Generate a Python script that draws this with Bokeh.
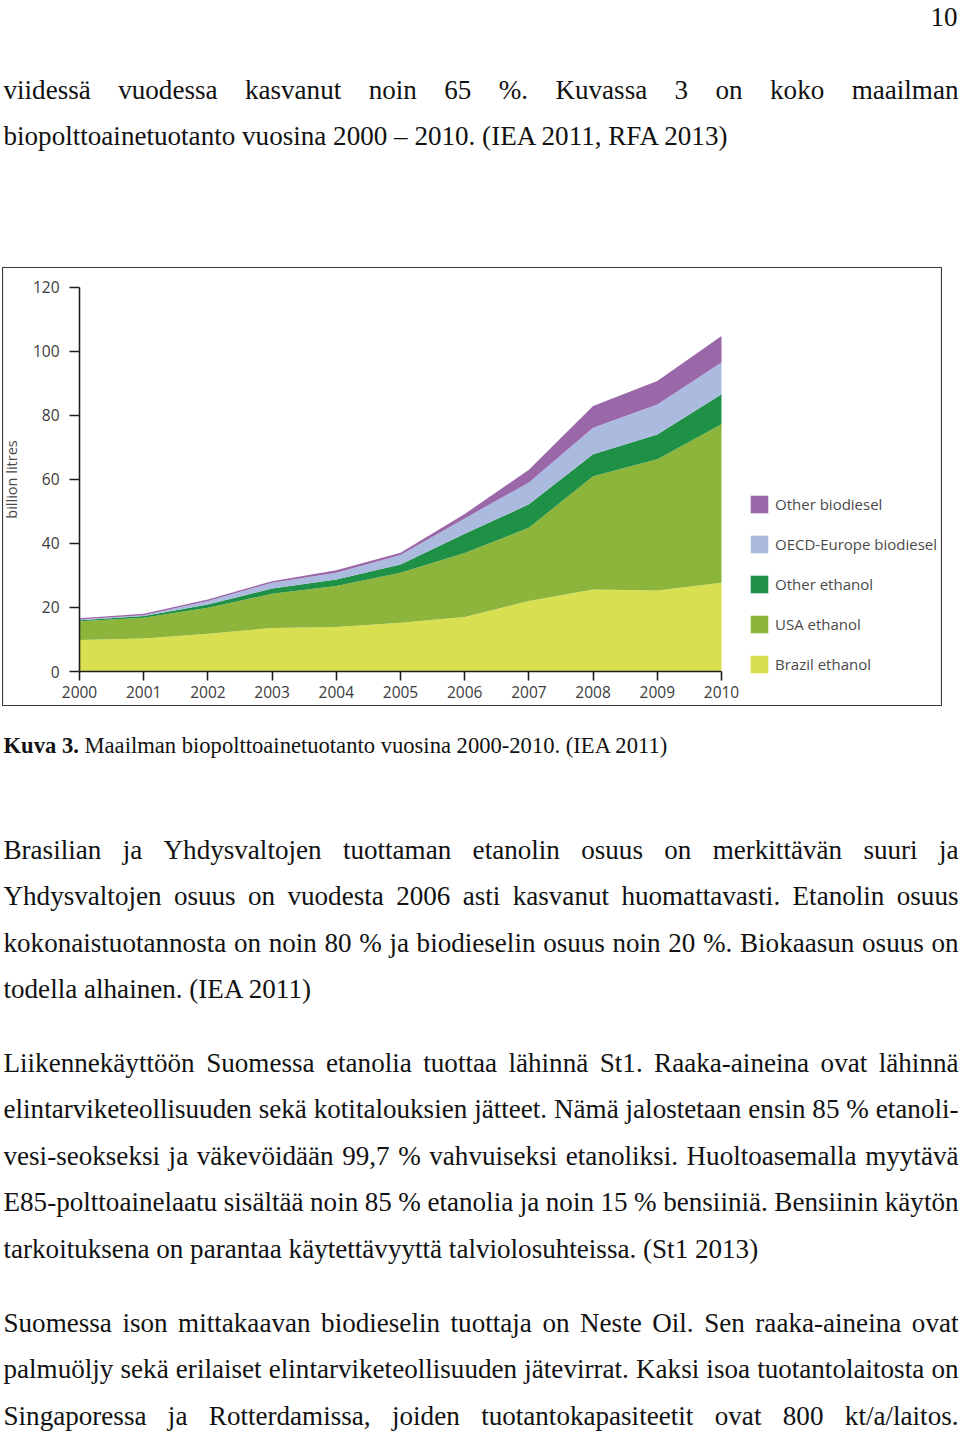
from bokeh.plotting import figure
from bokeh.models import Range1d, LinearAxis, FixedTicker, Legend, LegendItem, ColumnDataSource, Spacer
from bokeh.layouts import column, row
from bokeh.core.properties import value
from bokeh.embed import file_html
from bokeh.resources import INLINE

# ---------------- data ----------------
years = [2000, 2001, 2002, 2003, 2004, 2005, 2006, 2007, 2008, 2009, 2010]
brazil_ethanol = [9.8, 10.3, 11.8, 13.6, 13.9, 15.2, 17.0, 22.0, 25.6, 25.3, 27.7]
usa_ethanol = [5.9, 6.5, 8.1, 10.7, 12.8, 15.6, 20.0, 22.9, 35.4, 41.0, 49.5]
other_ethanol = [0.3, 0.5, 1.0, 1.6, 2.0, 2.6, 6.0, 7.3, 6.8, 7.7, 9.4]
oecd_europe_biodiesel = [0.2, 0.3, 1.1, 1.8, 2.1, 3.0, 4.8, 6.8, 8.3, 9.4, 9.9]
other_biodiesel = [0.4, 0.4, 0.5, 0.5, 0.8, 0.7, 1.4, 4.0, 6.8, 7.3, 8.3]
series_labels = ["Brazil ethanol", "USA ethanol", "Other ethanol",
                 "OECD-Europe biodiesel", "Other biodiesel"]
y_ticks = [0, 20, 40, 60, 80, 100, 120]
y_label = "billion litres"

page_number = "10"
para1 = [("viidessä vuodessa kasvanut noin 65 %. Kuvassa 3 on koko maailman", True),
         ("biopolttoainetuotanto vuosina 2000 – 2010. (IEA 2011, RFA 2013)", False)]
caption_bold = "Kuva 3."
caption_rest = "Maailman biopolttoainetuotanto vuosina 2000-2010. (IEA 2011)"
para2 = [("Brasilian ja Yhdysvaltojen tuottaman etanolin osuus on merkittävän suuri ja", True),
         ("Yhdysvaltojen osuus on vuodesta 2006 asti kasvanut huomattavasti. Etanolin osuus", True),
         ("kokonaistuotannosta on noin 80 % ja biodieselin osuus noin 20 %. Biokaasun osuus on", True),
         ("todella alhainen. (IEA 2011)", False)]
para3 = [("Liikennekäyttöön Suomessa etanolia tuottaa lähinnä St1. Raaka-aineina ovat lähinnä", True),
         ("elintarviketeollisuuden sekä kotitalouksien jätteet. Nämä jalostetaan ensin 85 % etanoli-", True),
         ("vesi-seokseksi ja väkevöidään 99,7 % vahvuiseksi etanoliksi. Huoltoasemalla myytävä", True),
         ("E85-polttoainelaatu sisältää noin 85 % etanolia ja noin 15 % bensiiniä. Bensiinin käytön", True),
         ("tarkoituksena on parantaa käytettävyyttä talviolosuhteissa. (St1 2013)", False)]
para4 = [("Suomessa ison mittakaavan biodieselin tuottaja on Neste Oil. Sen raaka-aineina ovat", True),
         ("palmuöljy sekä erilaiset elintarviketeollisuuden jätevirrat. Kaksi isoa tuotantolaitosta on", True),
         ("Singaporessa ja Rotterdamissa, joiden tuotantokapasiteetit ovat 800 kt/a/laitos.", True)]

# ---------------- layout helpers ----------------
PAGE_W = 960
X_L, X_R = 3, 958
SERIF = value("Liberation Serif")
BODY = 27.1
CAP = 22.6
LINE = 46.5
BASE_FIX = 0.31      # renderer draws alphabetic baseline slightly low; compensate

TIMES = {' ': 250, '%': 833, '(': 333, ')': 333, ',': 250, '-': 333, '.': 250, '/': 278,
         ':': 278, '–': 500,
         'A': 722, 'B': 667, 'C': 667, 'D': 722, 'E': 611, 'F': 556, 'G': 722, 'H': 722,
         'I': 333, 'J': 389, 'K': 722, 'L': 611, 'M': 889, 'N': 722, 'O': 722, 'P': 556,
         'Q': 722, 'R': 667, 'S': 556, 'T': 611, 'U': 722, 'V': 722, 'W': 944, 'X': 722,
         'Y': 722, 'Z': 611,
         'a': 444, 'b': 500, 'c': 444, 'd': 500, 'e': 444, 'f': 333, 'g': 500, 'h': 500,
         'i': 278, 'j': 278, 'k': 500, 'l': 278, 'm': 778, 'n': 500, 'o': 500, 'p': 500,
         'q': 500, 'r': 333, 's': 389, 't': 278, 'u': 500, 'v': 500, 'w': 722, 'x': 500,
         'y': 500, 'z': 444, 'ä': 444, 'ö': 500, 'å': 444, 'ü': 500}
for d in "0123456789":
    TIMES[d] = 500
TIMES_BOLD = {'K': 778, 'u': 556, 'v': 500, 'a': 500, ' ': 250, '3': 500, '.': 250}


def tw(s, size, table=TIMES):
    return sum(table.get(c, 500) for c in s) / 1000.0 * size


def text_fig(h):
    f = figure(width=PAGE_W, height=h, x_range=Range1d(0, PAGE_W), y_range=Range1d(h, 0),
               toolbar_location=None, output_backend="svg", min_border=0,
               x_axis_type=None, y_axis_type=None)
    f.outline_line_color = None
    f.background_fill_color = "white"
    f.border_fill_color = "white"
    return f


def draw_lines(f, lines, first_baseline, top):
    W = X_R - X_L
    lx, ly, lt = [], [], []
    rx, ry, rt = [], [], []
    for i, (line, just) in enumerate(lines):
        y = first_baseline + i * LINE - top - BASE_FIX * BODY
        if not just:
            lx.append(X_L); ly.append(y); lt.append(line)
            continue
        words = line.split(" ")
        widths = [tw(w, BODY) for w in words]
        gap = (W - sum(widths)) / (len(words) - 1)
        x = float(X_L)
        for j, (w, wd) in enumerate(zip(words, widths)):
            if j == len(words) - 1:
                rx.append(X_R); ry.append(y); rt.append(w)
            else:
                lx.append(x); ly.append(y); lt.append(w)
            x += wd + gap
    common = dict(text_font=SERIF, text_font_size=value(f"{BODY:.2f}px"),
                  text_baseline="alphabetic", text_color="#111111")
    f.text(x=lx, y=ly, text=lt, text_align="left", **common)
    if rt:
        f.text(x=rx, y=ry, text=rt, text_align="right", **common)


# ---------------- geometry of the chart box (reference pixels) ----------------
BOX_L, BOX_R, BOX_T, BOX_B = 2, 942, 267, 706
X2000, X2010 = 79, 721
Y0, Y120 = 671, 286.7

# ---------------- top text ----------------
top = text_fig(BOX_T)
top.text(x=[X_R - 1], y=[25 - BASE_FIX * BODY], text=[page_number], text_align="right",
         text_baseline="alphabetic", text_font=SERIF,
         text_font_size=value(f"{BODY:.2f}px"), text_color="#111111")
draw_lines(top, para1, 97.7, 0)

# ---------------- chart ----------------
cw = BOX_R - BOX_L
ch = BOX_B - BOX_T
px_year = (X2010 - X2000) / 10.0
x_start = 2000 - (X2000 - BOX_L) / px_year
x_end = x_start + cw / px_year
px_unit = (Y0 - Y120) / 120.0
y_end = (Y0 - BOX_T) / px_unit
y_start = -(BOX_B - Y0) / px_unit

p = figure(width=cw, height=ch, x_range=Range1d(x_start, x_end), y_range=Range1d(y_start, y_end),
           toolbar_location=None, output_backend="svg", min_border=0,
           x_axis_type=None, y_axis_type=None)
p.outline_line_color = "#3a3a3a"
p.outline_line_width = 1.2
p.background_fill_color = "white"
p.border_fill_color = "white"

src = ColumnDataSource(dict(year=years, brazil=brazil_ethanol, usa=usa_ethanol,
                            oeth=other_ethanol, oecd=oecd_europe_biodiesel,
                            obio=other_biodiesel))
keys = ["brazil", "usa", "oeth", "oecd", "obio"]
colors = ["#d8e052", "#8db43b", "#1f9146", "#abbadf", "#9a67a9"]
rs = p.varea_stack(stackers=keys, x="year", color=colors, source=src)

yaxis = LinearAxis(fixed_location=2000, bounds=(0, 120), ticker=FixedTicker(ticks=y_ticks),
                   axis_label=y_label)
xaxis = LinearAxis(fixed_location=0, bounds=(2000, 2010), ticker=FixedTicker(ticks=years))
for ax in (yaxis, xaxis):
    ax.axis_line_color = "#1e1e1e"
    ax.axis_line_width = 1.6
    ax.major_tick_line_color = "#1e1e1e"
    ax.major_tick_line_width = 1.6
    ax.major_tick_in = 0
    ax.minor_tick_line_color = None
    ax.major_label_text_font = "Open Sans"
    ax.major_label_text_font_size = "15.5px"
    ax.major_label_text_color = "#3c3c3c"
yaxis.major_tick_out = 10
yaxis.major_label_standoff = 10
yaxis.axis_label_text_font = "Open Sans"
yaxis.axis_label_text_font_size = "14.5px"
yaxis.axis_label_text_font_style = "normal"
yaxis.axis_label_text_color = "#4a4a4a"
yaxis.axis_label_standoff = 9
xaxis.major_tick_out = 9
xaxis.major_label_standoff = 5
p.add_layout(yaxis, "left")
p.add_layout(xaxis, "below")

GLYPH = 22
items = [LegendItem(label=lab, renderers=[r]) for lab, r in zip(series_labels, rs)][::-1]
legend = Legend(items=items, location=(748 - BOX_L, BOX_B - 675),
                orientation="vertical", glyph_width=GLYPH, glyph_height=GLYPH, label_height=18,
                spacing=40 - GLYPH, padding=0, margin=0, border_line_color=None,
                background_fill_alpha=0, label_standoff=5,
                label_text_font="Open Sans", label_text_font_size="15px",
                label_text_color="#4a4a4a")
p.add_layout(legend)

# ---------------- bottom text ----------------
bot = text_fig(1431 - BOX_B)
cap_y = 752.5 - BOX_B - BASE_FIX * CAP
bot.text(x=[X_L], y=[cap_y], text=[caption_bold], text_font=SERIF, text_font_style="bold",
         text_font_size=value(f"{CAP:.2f}px"), text_baseline="alphabetic",
         text_align="left", text_color="#111111")
bot.text(x=[X_L + tw(caption_bold + " ", CAP, TIMES_BOLD)], y=[cap_y], text=[caption_rest],
         text_font=SERIF, text_font_size=value(f"{CAP:.2f}px"), text_baseline="alphabetic",
         text_align="left", text_color="#111111")
draw_lines(bot, para2, 857.7, BOX_B)
draw_lines(bot, para3, 1070.7, BOX_B)
draw_lines(bot, para4, 1330.7, BOX_B)

layout = column(top, row(Spacer(width=BOX_L, height=ch), p, spacing=0), bot, spacing=0)
open("out.html", "w").write(file_html(layout, INLINE))
